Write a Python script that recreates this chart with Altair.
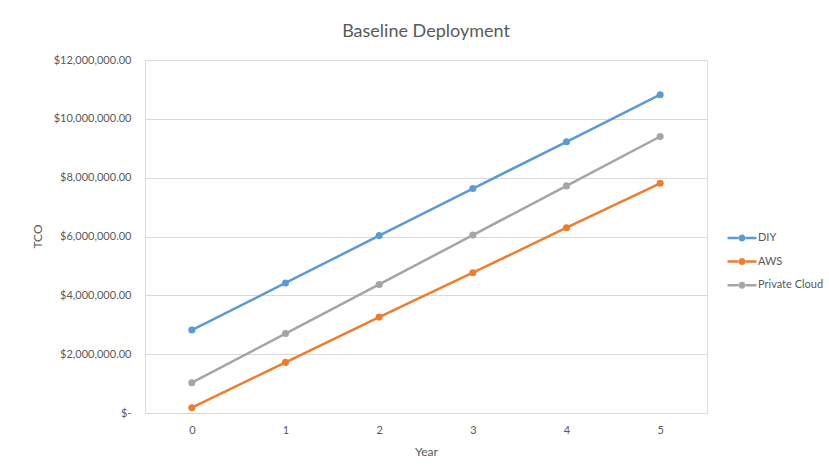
import altair as alt
import pandas as pd

years = [0, 1, 2, 3, 4, 5]
series_names = ["DIY", "AWS", "Private Cloud"]
diy = [2820000, 4420000, 6030000, 7630000, 9220000, 10820000]
aws = [180000, 1720000, 3260000, 4770000, 6300000, 7810000]
private_cloud = [1030000, 2700000, 4370000, 6050000, 7720000, 9400000]
colors = ["#5B9BD5", "#ED7D31", "#A5A5A5"]
y_ticks = [0, 2000000, 4000000, 6000000, 8000000, 10000000, 12000000]

rows = []
for name, vals in zip(series_names, [diy, aws, private_cloud]):
    for yr, v in zip(years, vals):
        rows.append({"Year": yr, "TCO": v, "Series": name})
df = pd.DataFrame(rows)

FONT = "Lato"
GREY = "#595959"

legend_path = ("M-2.07,-0.18H-0.45V0.18H-2.07Z "
               "M0.45,-0.18H2.07V0.18H0.45Z "
               "M-0.5,0A0.5,0.5,0,1,0,0.5,0A0.5,0.5,0,1,0,-0.5,0Z")

color = alt.Color(
    "Series:N",
    scale=alt.Scale(domain=series_names, range=colors),
    legend=alt.Legend(
        title=None,
        orient="none",
        legendX=590,
        legendY=171,
        symbolType=legend_path,
        symbolSize=196,
        symbolStrokeWidth=0,
        labelOffset=9,
        labelFont=FONT,
        labelFontSize=11,
        labelColor=GREY,
        rowPadding=11.6,
    ),
)

x = alt.X(
    "Year:O",
    scale=alt.Scale(type="point", padding=0.5),
    axis=alt.Axis(
        title="Year",
        labelAngle=0,
        labelFont=FONT,
        labelFontSize=11,
        labelColor=GREY,
        labelPadding=11,
        ticks=False,
        domain=False,
        grid=False,
        titleFont=FONT,
        titleFontSize=12,
        titleFontWeight="normal",
        titleColor=GREY,
        titlePadding=11,
    ),
)

y = alt.Y(
    "TCO:Q",
    scale=alt.Scale(domain=[0, 12000000]),
    axis=alt.Axis(
        title="TCO",
        values=y_ticks,
        labelExpr="datum.value == 0 ? '$-' : '$' + format(datum.value, ',.2f')",
        labelFont=FONT,
        labelFontSize=11,
        labelColor=GREY,
        labelPadding=14,
        ticks=False,
        domain=False,
        grid=True,
        gridColor="#D9D9D9",
        gridWidth=1,
        titleFont=FONT,
        titleFontSize=12,
        titleFontWeight="normal",
        titleColor=GREY,
        titleAngle=-90,
        titleX=-108,
        titleY=176,
        titleAlign="center",
        titleBaseline="middle",
    ),
)

base = alt.Chart(df).encode(x=x, y=y, color=color)

points = base.mark_point(filled=True, size=50, opacity=1)
lines = base.mark_line(strokeWidth=2.5)

chart = (
    alt.layer(points, lines)
    .properties(
        width=562,
        height=353,
        title=alt.TitleParams(
            "Baseline Deployment",
            font=FONT,
            fontSize=18,
            fontWeight="normal",
            color=GREY,
            anchor="middle",
            offset=13,
        ),
        autosize=alt.AutoSizeParams(type="none"),
        padding={"left": 145, "top": 60, "right": 122, "bottom": 58},
    )
    .configure_view(stroke=None)
    .configure(background="white")
)

chart.save("out.html", embed_options={"renderer": "svg", "actions": False})
